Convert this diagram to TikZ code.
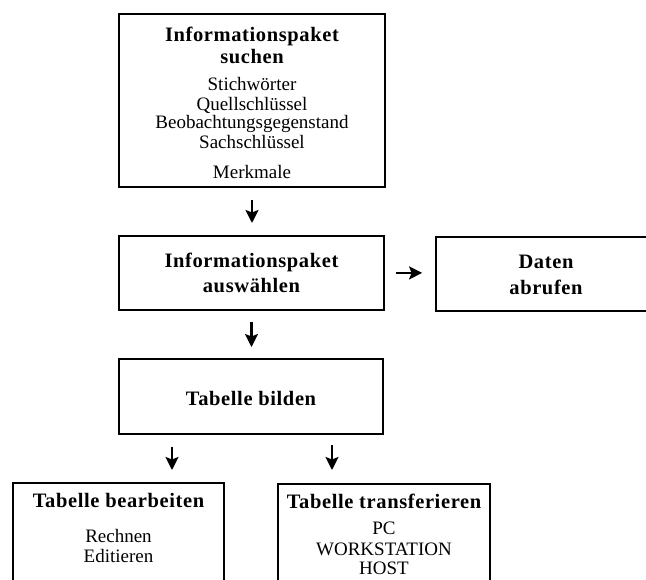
\documentclass[tikz,border=0pt]{standalone}
\usepackage{fontspec}
\setmainfont{Liberation Serif}
\newfontfamily\titelfont[LetterSpace=3]{Liberation Serif}
\usetikzlibrary{arrows.meta}
\newcommand{\titel}[1]{{\titelfont\bfseries\fontsize{20.5}{20}\selectfont #1}}
\tikzset{
  kasten/.style={draw,line width=1.8pt,inner sep=0pt,align=center,anchor=north,
    font=\fontsize{19}{20}\selectfont},
  pfeil/.style={-{Stealth[length=13pt,width=13pt,inset=2.5pt]},line width=2.2pt},
}
\begin{document}
\begin{tikzpicture}[x=1pt,y=-1pt]
\useasboundingbox[fill=white] (0,0) rectangle (646,579);
\node[kasten,minimum width=266pt,text height=165pt,text depth=8pt] (suchen) at (252,13)
  {\titel{Informationspaket}\\[2pt]\titel{suchen}\\[7pt]Stichwörter\\Quellschlüssel\\[-2pt]
   Beobachtungsgegenstand\\Sachschlüssel\\[10pt]Merkmale};
\node[kasten,minimum width=265pt,text height=57pt,text depth=17pt] (auswaehlen) at (251.5,235)
  {\titel{Informationspaket}\\[5pt]\titel{auswählen}};
\node[kasten,minimum width=220pt,text height=58pt,text depth=16pt] (abrufen) at (546,236)
  {\titel{Daten}\\[6pt]\titel{abrufen}};
\node[kasten,minimum width=264pt,text height=47pt,text depth=28pt] (bilden) at (251,358)
  {\titel{Tabelle bilden}};
\node[kasten,minimum width=211pt,text height=80pt,text depth=38pt] (bearbeiten) at (118.5,482)
  {\titel{Tabelle bearbeiten}\\[15pt]Rechnen\\Editieren};
\node[kasten,minimum width=212pt,text height=91pt,text depth=26pt] (transferieren) at (384,483)
  {\titel{Tabelle transferieren}\\[6pt]PC\\[1pt]WORKSTATION\\[-1pt]HOST};
% Pfeile
\coordinate (links) at ([xshift=-79pt]bilden.south);
\coordinate (rechts) at ([xshift=81pt]bilden.south);
\draw[pfeil,shorten <=12pt,shorten >=12pt] (suchen.south) -- (suchen.south |- auswaehlen.north);
\draw[pfeil,shorten <=11pt,shorten >=11pt] (auswaehlen.south) -- (auswaehlen.south |- bilden.north);
\draw[pfeil,shorten <=11pt,shorten >=13pt] (auswaehlen.east) -- (auswaehlen.east -| abrufen.west);
\draw[pfeil,shorten <=12pt,shorten >=12pt] (links) -- (links |- bearbeiten.north);
\draw[pfeil,shorten <=10pt,shorten >=13pt] (rechts) -- (rechts |- transferieren.north);
\end{tikzpicture}
\end{document}
